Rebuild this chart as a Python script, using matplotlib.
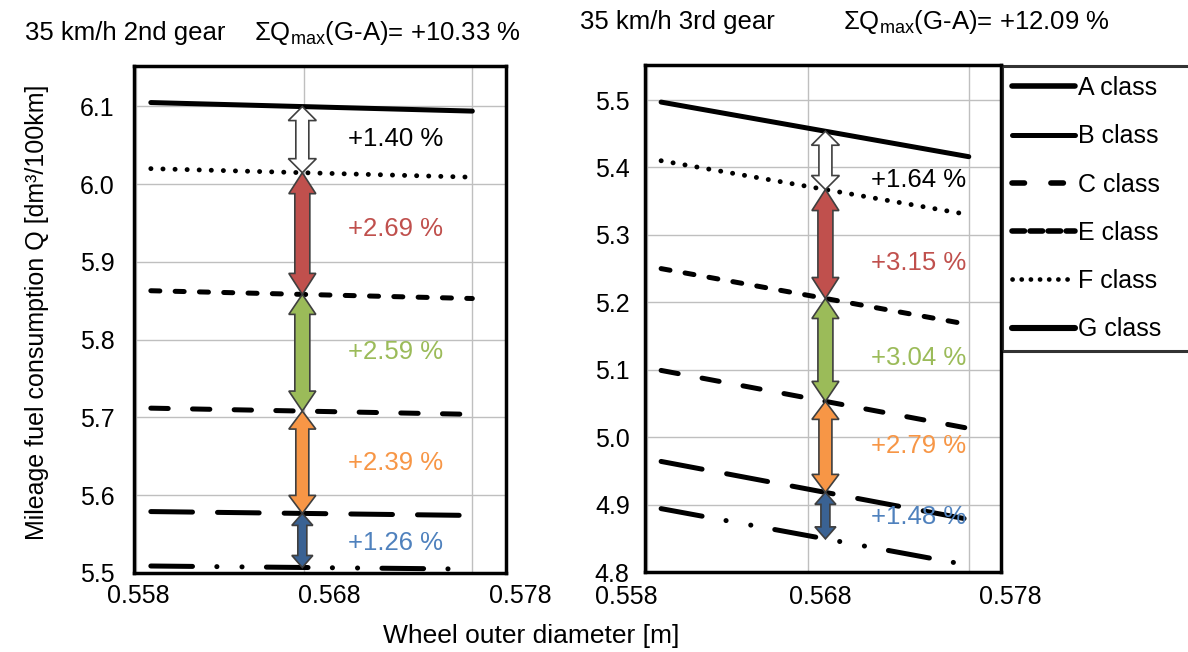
import numpy as np
import matplotlib
matplotlib.use("Agg")
import matplotlib.pyplot as plt
from matplotlib.lines import Line2D
from matplotlib.patches import Polygon
from matplotlib.transforms import ScaledTranslation

plt.rcParams['font.family'] = ['Liberation Sans', 'DejaVu Sans']
plt.rcParams['mathtext.default'] = 'regular'
plt.rcParams['lines.scale_dashes'] = False

# wheel outer diameter [m], start and end of every line
diam = [0.5589, 0.5780]
classes = ["A class", "B class", "C class", "E class", "F class", "G class"]

# mileage fuel consumption Q [dm3/100km] at the two diameters, per class (A..G)
q2_start = [5.509, 5.579, 5.712, 5.863, 6.020, 6.105]
q2_end = [5.505, 5.574, 5.704, 5.853, 6.009, 6.094]
q3_start = [4.894, 4.964, 5.099, 5.250, 5.410, 5.497]
q3_end = [4.810, 4.878, 5.013, 5.167, 5.330, 5.416]

# differences between neighbouring classes (G-F, F-E, E-C, C-B, B-A)
pct_2nd = ["+1.40 %", "+2.69 %", "+2.59 %", "+2.39 %", "+1.26 %"]
pct_3rd = ["+1.64 %", "+3.15 %", "+3.04 %", "+2.79 %", "+1.48 %"]
lbl_y_2nd = [6.058, 5.943, 5.784, 5.641, 5.538]
lbl_y_3rd = [5.381, 5.258, 5.117, 4.987, 4.881]
arrow_x_2nd = 0.5679
arrow_x_3rd = 0.5691

arrow_fill = ["#FFFFFF", "#C0504D", "#9BBB59", "#F79646", "#3A6293"]
text_col = ["#000000", "#C0504D", "#9BBB59", "#F79646", "#4F81BD"]
# shaft width, head width, head length in px
arrow_dims = [(13, 28, 14), (15, 27, 21), (15, 27, 20), (13, 27, 18), (9, 21, 12)]

# line styles per class, dashes in points
styles = {
    "A class": dict(lw=3.6, ls=(0, (30, 17.5, 0.1, 18, 0.1, 17.5))),
    "B class": dict(lw=3.6, ls=(0, (30, 18))),
    "C class": dict(lw=3.6, ls=(0, (12.5, 17.5))),
    "E class": dict(lw=3.6, ls=(0, (6.5, 11))),
    "F class": dict(lw=3.5, ls=(0, (0.1, 8.6))),
    "G class": dict(lw=3.6, ls="-"),
}

fig = plt.figure(figsize=(11.88, 6.52), dpi=100)
ax1 = fig.add_axes([134/1188, 79/652, 372/1188, 507/652])
ax2 = fig.add_axes([645/1188, 80/652, 356/1188, 507/652])


def draw_arrow(ax, xc, ytop, ybot, dims, fc):
    # double headed block arrow, widths given in pixels
    sw, hw, hl = dims
    p_top = ax.transData.transform((xc, ytop))
    p_bot = ax.transData.transform((xc, ybot))
    cx = p_top[0]
    t, b = p_top[1], p_bot[1]
    pts = [(cx, t), (cx + hw/2, t - hl), (cx + sw/2, t - hl), (cx + sw/2, b + hl),
           (cx + hw/2, b + hl), (cx, b), (cx - hw/2, b + hl), (cx - sw/2, b + hl),
           (cx - sw/2, t - hl), (cx - hw/2, t - hl)]
    pts = ax.transData.inverted().transform(pts)
    ax.add_patch(Polygon(pts, closed=True, fc=fc, ec="#3F3F3F", lw=1.2, zorder=4))


def panel(ax, q_start, q_end, ylim, yticks, ax_x, pct, lbl_y, tick_dx, ypad, xpad):
    ax.set_xlim(0.5579, 0.5800)
    ax.set_ylim(*ylim)
    ax.set_xticks([0.558, 0.568, 0.578])
    ax.set_xticklabels(["0.558", "0.568", "0.578"])
    ax.set_yticks(yticks)
    ax.set_yticklabels(["%.1f" % v for v in yticks])
    ax.grid(True, color="#BFBFBF", lw=1.0)
    ax.set_axisbelow(True)
    ax.tick_params(length=0, labelsize=18, colors="black")
    ax.tick_params(axis="y", pad=ypad)
    ax.tick_params(axis="x", pad=xpad)
    for s in ax.spines.values():
        s.set_linewidth(2.5)
        s.set_color("black")

    for i, c in enumerate(classes):
        ax.plot(diam, [q_start[i], q_end[i]], color="black", solid_capstyle="round",
                dash_capstyle="round", zorder=3, **styles[c])

    # arrows between neighbouring classes, from G down to A
    order = list(range(len(classes)))[::-1]
    for k in range(len(order) - 1):
        up, lo = order[k], order[k + 1]
        ytop = np.interp(ax_x, diam, [q_start[up], q_end[up]])
        ybot = np.interp(ax_x, diam, [q_start[lo], q_end[lo]])
        draw_arrow(ax, ax_x, ytop, ybot, arrow_dims[k], arrow_fill[k])
        ax.annotate(pct[k], (ax_x, lbl_y[k]), xytext=(67, 0), textcoords="offset points",
                    ha="center", va="center", fontsize=18.5, color=text_col[k], zorder=5)

    for lbl, dx in zip(ax.get_xticklabels(), tick_dx):
        lbl.set_transform(lbl.get_transform() + ScaledTranslation(dx/100, 0, fig.dpi_scale_trans))


panel(ax1, q2_start, q2_end, (5.5, 6.152), [5.5, 5.6, 5.7, 5.8, 5.9, 6.0, 6.1],
      arrow_x_2nd, pct_2nd, lbl_y_2nd, [3, 25, 48], 14, 8)
panel(ax2, q3_start, q3_end, (4.8, 5.552), [4.8, 4.9, 5.0, 5.1, 5.2, 5.3, 5.4, 5.5],
      arrow_x_3rd, pct_3rd, lbl_y_3rd, [-20, 13, 42], 11, 9.5)

# titles
fig.text(25/1188, 1 - 33/652, "35 km/h 2nd gear", fontsize=18.5, va="center", ha="left")
fig.text(254/1188, 1 - 33/652, "ΣQ$_{max}$(G-A)= +10.33 %", fontsize=18.5, va="center", ha="left")
fig.text(580/1188, 1 - 22/652, "35 km/h 3rd gear", fontsize=18.5, va="center", ha="left")
fig.text(843/1188, 1 - 22/652, "ΣQ$_{max}$(G-A)= +12.09 %", fontsize=18.5, va="center", ha="left")

fig.text(37/1188, 1 - 312/652, "Mileage fuel consumption Q [dm³/100km]", fontsize=18,
         rotation=90, va="center", ha="center")
fig.text(531/1188, 1 - 636/652, "Wheel outer diameter [m]", fontsize=19, va="center", ha="center")

# legend as drawn in the reference
leg_styles = [dict(lw=4.0, ls="-"), dict(lw=3.6, ls="-"), dict(lw=4.0, ls=(0, (9, 19))),
              dict(lw=4.0, ls=(0, (9, 4))), dict(lw=3.4, ls=(0, (0.1, 6.5))), dict(lw=4.4, ls="-")]
handles = [Line2D([], [], color="black", solid_capstyle="round", dash_capstyle="round", **st)
           for st in leg_styles]
leg_top = 1 - 66/652
leg = fig.legend(handles, classes, loc="upper left", bbox_to_anchor=(1002/1188, leg_top - 0.1, 0.25, 0.1),
                 bbox_transform=fig.transFigure, mode="expand", fontsize=18, frameon=True,
                 fancybox=False, edgecolor="black", borderaxespad=0, borderpad=0.4,
                 labelspacing=0.97, handlelength=2.5, handletextpad=0.15)
leg.get_frame().set_linewidth(2.2)

fig.savefig("out.png", dpi=100)
